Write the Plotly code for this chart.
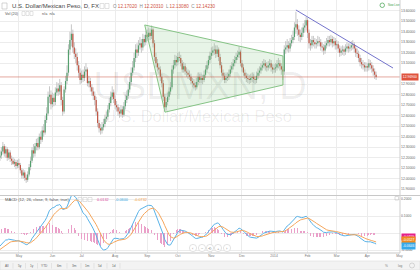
import numpy as np
import pandas as pd
import plotly.graph_objects as go

FONT = "Liberation Sans, Arial, sans-serif"

# ---------------- data ----------------
first_bar_date = "2013-04-12"
first_bar_index = -13          # bar index of first visible bar (0 = 1 May 2013)

# closes before the visible window (only used to warm up the MACD)
prior_closes = [12.72, 12.70, 12.74, 12.68, 12.71, 12.75, 12.79, 12.77, 12.81, 12.84,
                12.80, 12.78, 12.74, 12.70, 12.66, 12.62, 12.58, 12.55, 12.49, 12.44,
                12.41, 12.43, 12.38, 12.40, 12.36, 12.33, 12.35, 12.31, 12.36, 12.33,
                12.30, 12.27, 12.24, 12.21, 12.18, 12.15, 12.13, 12.10, 12.12, 12.16,
                12.19, 12.17, 12.21, 12.18, 12.20]

opens = [12.20, 12.22, 12.26, 12.31, 12.24, 12.28, 12.20, 12.25, 12.19, 12.1702,
         12.1423, 12.16, 12.12, 12.15, 12.13, 12.08, 12.03, 12.06, 12.01, 11.99,
         12.04, 12.11, 12.17, 12.27, 12.24, 12.31, 12.34, 12.30, 12.40, 12.37,
         12.46, 12.44, 12.56, 12.62, 12.78, 12.80, 12.71, 12.77, 12.73, 12.82,
         12.86, 12.83, 12.89, 12.75, 12.64, 12.85, 12.93, 13.01, 13.23, 13.32,
         13.38, 13.25, 13.19, 13.16, 13.08, 13.01, 12.94, 12.99, 12.96, 13.02,
         13.04, 12.91, 12.93, 12.87, 12.83, 12.79, 12.75, 12.64, 12.53, 12.48,
         12.46, 12.49, 12.52, 12.57, 12.59, 12.66, 12.72, 12.78, 12.82, 12.76,
         12.70, 12.68, 12.64, 12.62, 12.66, 12.61, 12.69, 12.75, 12.79, 12.85,
         12.92, 13.01, 13.06, 13.15, 13.23, 13.20, 13.27, 13.29, 13.25, 13.33,
         13.30, 13.37, 13.35, 13.39, 13.36, 13.42, 13.29, 13.16, 13.10, 13.06,
         13.04, 12.97, 12.91, 12.78, 12.68, 12.73, 12.78, 12.83, 12.87, 13.04,
         13.08, 13.13, 13.11, 13.16, 13.15, 13.10, 13.04, 13.07, 13.02, 13.01,
         12.99, 12.97, 12.93, 12.91, 12.89, 12.87, 12.92, 12.97, 12.94, 12.96,
         12.94, 12.99, 13.04, 13.08, 13.13, 13.17, 13.20, 13.22, 13.23, 13.19,
         13.23, 13.16, 13.08, 13.01, 12.98, 12.94, 12.96, 12.97, 13.00, 13.04,
         13.07, 13.10, 13.13, 13.16, 13.18, 13.21, 13.10, 13.06, 13.01, 12.98,
         12.96, 12.95, 12.94, 12.96, 12.97, 12.95, 12.94, 12.98, 13.01, 13.03,
         13.06, 13.08, 13.10, 13.07, 13.06, 13.08, 13.10, 13.06, 13.04, 13.05,
         13.06, 13.09, 13.10, 13.07, 13.04, 13.02, 13.23, 13.25, 13.27, 13.24,
         13.29, 13.32, 13.35, 13.44, 13.47, 13.42, 13.37, 13.35, 13.39, 13.44,
         13.46, 13.51, 13.39, 13.29, 13.27, 13.32, 13.30, 13.28, 13.29, 13.31,
         13.30, 13.26, 13.25, 13.22, 13.27, 13.29, 13.32, 13.30, 13.33, 13.29,
         13.31, 13.27, 13.28, 13.24, 13.20, 13.22, 13.23, 13.21, 13.24, 13.26,
         13.24, 13.25, 13.27, 13.28, 13.24, 13.20, 13.19, 13.15, 13.11, 13.09,
         13.08, 13.06, 13.07, 13.06, 13.10, 13.08, 13.05, 13.02, 12.99]

highs = [12.27, 12.30, 12.35, 12.33, 12.31, 12.30, 12.28, 12.27, 12.22, 12.2031,
         12.19, 12.18, 12.18, 12.19, 12.15, 12.10, 12.09, 12.08, 12.04, 12.07,
         12.14, 12.21, 12.30, 12.33, 12.34, 12.38, 12.39, 12.43, 12.45, 12.50,
         12.52, 12.60, 12.68, 12.83, 12.88, 12.84, 12.82, 12.81, 12.87, 12.92,
         12.91, 12.95, 12.92, 12.78, 12.88, 12.98, 13.08, 13.28, 13.40, 13.47,
         13.42, 13.30, 13.24, 13.20, 13.12, 13.05, 13.03, 13.04, 13.07, 13.10,
         13.06, 12.98, 12.96, 12.90, 12.87, 12.83, 12.78, 12.67, 12.56, 12.52,
         12.54, 12.57, 12.61, 12.64, 12.70, 12.77, 12.83, 12.88, 12.85, 12.79,
         12.74, 12.71, 12.68, 12.70, 12.69, 12.73, 12.80, 12.84, 12.90, 12.97,
         13.06, 13.12, 13.20, 13.28, 13.29, 13.32, 13.35, 13.33, 13.38, 13.37,
         13.41, 13.42, 13.44, 13.43, 13.46, 13.44, 13.32, 13.20, 13.14, 13.10,
         13.07, 13.00, 12.94, 12.81, 12.77, 12.82, 12.87, 12.92, 13.08, 13.13,
         13.18, 13.17, 13.20, 13.21, 13.18, 13.13, 13.11, 13.10, 13.06, 13.04,
         13.03, 13.00, 12.96, 12.95, 12.92, 12.96, 13.01, 13.00, 13.00, 12.99,
         13.03, 13.08, 13.12, 13.17, 13.21, 13.25, 13.26, 13.29, 13.27, 13.27,
         13.25, 13.19, 13.11, 13.04, 13.01, 13.00, 13.01, 13.04, 13.08, 13.11,
         13.14, 13.17, 13.20, 13.22, 13.26, 13.23, 13.13, 13.09, 13.04, 13.01,
         13.00, 12.99, 13.00, 13.01, 13.00, 12.98, 13.02, 13.05, 13.07, 13.10,
         13.12, 13.14, 13.13, 13.11, 13.12, 13.14, 13.13, 13.09, 13.09, 13.10,
         13.13, 13.15, 13.13, 13.10, 13.07, 13.27, 13.31, 13.33, 13.31, 13.34,
         13.37, 13.41, 13.49, 13.59, 13.52, 13.46, 13.42, 13.44, 13.48, 13.51,
         13.54, 13.53, 13.42, 13.33, 13.36, 13.36, 13.34, 13.33, 13.36, 13.35,
         13.33, 13.30, 13.28, 13.31, 13.34, 13.36, 13.36, 13.37, 13.36, 13.35,
         13.34, 13.32, 13.31, 13.27, 13.26, 13.27, 13.26, 13.28, 13.30, 13.29,
         13.29, 13.31, 13.32, 13.30, 13.27, 13.24, 13.22, 13.18, 13.15, 13.13,
         13.11, 13.11, 13.10, 13.14, 13.13, 13.11, 13.08, 13.05, 13.02]

lows = [12.17, 12.19, 12.23, 12.21, 12.20, 12.17, 12.18, 12.16, 12.13, 12.1308,
        12.11, 12.09, 12.10, 12.10, 12.05, 12.00, 12.00, 11.98, 11.96, 11.97,
        12.02, 12.08, 12.15, 12.20, 12.21, 12.27, 12.27, 12.28, 12.33, 12.35,
        12.40, 12.42, 12.53, 12.60, 12.72, 12.66, 12.68, 12.69, 12.70, 12.79,
        12.79, 12.80, 12.70, 12.60, 12.62, 12.82, 12.90, 12.98, 13.18, 13.26,
        13.20, 13.14, 13.10, 13.03, 12.96, 12.90, 12.91, 12.92, 12.93, 12.98,
        12.88, 12.87, 12.83, 12.79, 12.75, 12.70, 12.60, 12.49, 12.44, 12.42,
        12.43, 12.46, 12.49, 12.54, 12.56, 12.63, 12.69, 12.75, 12.72, 12.66,
        12.64, 12.60, 12.58, 12.59, 12.58, 12.59, 12.66, 12.72, 12.76, 12.82,
        12.89, 12.98, 13.03, 13.11, 13.15, 13.17, 13.23, 13.20, 13.22, 13.26,
        13.27, 13.31, 13.32, 13.32, 13.33, 13.25, 13.12, 13.06, 13.02, 13.00,
        12.93, 12.87, 12.74, 12.64, 12.65, 12.70, 12.75, 12.80, 12.85, 13.00,
        13.05, 13.07, 13.08, 13.12, 13.07, 13.01, 13.01, 12.99, 12.97, 12.95,
        12.94, 12.90, 12.87, 12.86, 12.84, 12.85, 12.89, 12.91, 12.91, 12.90,
        12.92, 12.96, 13.01, 13.05, 13.10, 13.14, 13.17, 13.18, 13.15, 13.16,
        13.12, 13.05, 12.98, 12.94, 12.91, 12.91, 12.93, 12.94, 12.97, 13.01,
        13.04, 13.07, 13.10, 13.13, 13.15, 13.07, 13.02, 12.98, 12.95, 12.92,
        12.91, 12.90, 12.91, 12.92, 12.91, 12.90, 12.91, 12.95, 12.98, 13.00,
        13.03, 13.05, 13.03, 13.02, 13.03, 13.05, 13.02, 13.00, 13.01, 13.01,
        13.03, 13.05, 13.03, 12.99, 12.94, 12.99, 13.19, 13.21, 13.20, 13.21,
        13.26, 13.29, 13.32, 13.38, 13.36, 13.31, 13.30, 13.32, 13.35, 13.39,
        13.41, 13.34, 13.24, 13.22, 13.24, 13.26, 13.24, 13.24, 13.26, 13.26,
        13.22, 13.21, 13.18, 13.19, 13.24, 13.26, 13.26, 13.27, 13.25, 13.26,
        13.23, 13.23, 13.20, 13.16, 13.17, 13.18, 13.17, 13.18, 13.21, 13.20,
        13.21, 13.22, 13.23, 13.20, 13.16, 13.15, 13.11, 13.07, 13.05, 13.04,
        13.02, 13.02, 13.02, 13.03, 13.04, 13.01, 12.98, 12.95, 12.94]

closes = [12.22, 12.26, 12.31, 12.24, 12.28, 12.20, 12.25, 12.19, 12.17, 12.1423,
          12.16, 12.12, 12.15, 12.13, 12.08, 12.03, 12.06, 12.01, 11.99, 12.04,
          12.11, 12.17, 12.27, 12.24, 12.31, 12.34, 12.30, 12.40, 12.37, 12.46,
          12.44, 12.56, 12.62, 12.78, 12.80, 12.71, 12.77, 12.73, 12.82, 12.86,
          12.83, 12.89, 12.75, 12.64, 12.85, 12.93, 13.01, 13.23, 13.32, 13.38,
          13.25, 13.19, 13.16, 13.08, 13.01, 12.94, 12.99, 12.96, 13.02, 13.04,
          12.91, 12.93, 12.87, 12.83, 12.79, 12.75, 12.64, 12.53, 12.48, 12.46,
          12.49, 12.52, 12.57, 12.59, 12.66, 12.72, 12.78, 12.82, 12.76, 12.70,
          12.68, 12.64, 12.62, 12.66, 12.61, 12.69, 12.75, 12.79, 12.85, 12.92,
          13.01, 13.06, 13.15, 13.23, 13.20, 13.27, 13.29, 13.25, 13.33, 13.30,
          13.37, 13.35, 13.39, 13.36, 13.42, 13.29, 13.16, 13.10, 13.06, 13.04,
          12.97, 12.91, 12.78, 12.68, 12.73, 12.78, 12.83, 12.87, 13.04, 13.08,
          13.13, 13.11, 13.16, 13.15, 13.10, 13.04, 13.07, 13.02, 13.01, 12.99,
          12.97, 12.93, 12.91, 12.89, 12.87, 12.92, 12.97, 12.94, 12.96, 12.94,
          12.99, 13.04, 13.08, 13.13, 13.17, 13.20, 13.22, 13.23, 13.19, 13.23,
          13.16, 13.08, 13.01, 12.98, 12.94, 12.96, 12.97, 13.00, 13.04, 13.07,
          13.10, 13.13, 13.16, 13.18, 13.21, 13.10, 13.06, 13.01, 12.98, 12.96,
          12.95, 12.94, 12.96, 12.97, 12.95, 12.94, 12.98, 13.01, 13.03, 13.06,
          13.08, 13.10, 13.07, 13.06, 13.08, 13.10, 13.06, 13.04, 13.05, 13.06,
          13.09, 13.10, 13.07, 13.04, 13.02, 13.23, 13.25, 13.27, 13.24, 13.29,
          13.32, 13.35, 13.44, 13.47, 13.42, 13.37, 13.35, 13.39, 13.44, 13.46,
          13.51, 13.39, 13.29, 13.27, 13.32, 13.30, 13.28, 13.29, 13.31, 13.30,
          13.26, 13.25, 13.22, 13.27, 13.29, 13.32, 13.30, 13.33, 13.29, 13.31,
          13.27, 13.28, 13.24, 13.20, 13.22, 13.23, 13.21, 13.24, 13.26, 13.24,
          13.25, 13.27, 13.28, 13.24, 13.20, 13.19, 13.15, 13.11, 13.09, 13.08,
          13.06, 13.07, 13.06, 13.10, 13.08, 13.05, 13.02, 12.99, 12.969]

price_ticks = [11.9, 12.0, 12.1, 12.2, 12.3, 12.4, 12.5, 12.6, 12.7, 12.8, 12.9,
               13.1, 13.2, 13.3, 13.4, 13.5, 13.6]
macd_ticks = [-0.1, 0.1, 0.2]
macd_grid = [-0.1, 0.0, 0.1, 0.2]

# drawings (bar index, price)
triangle_bar = [86.3, 181.1, 181.1, 100.2]
triangle_price = [13.464, 13.169, 12.892, 12.634]
trend_bar = [190.0, 256.6]
trend_price = [13.607, 13.054]

header_title = "U.S. Dollar/Mexican Peso, D, FX"
header_ohlc = [("O", "12.17020"), ("H", "12.20310"), ("L", "12.13080"), ("C", "12.14230")]
macd_header = [("0.0132", "#d9479b"), ("-0.0600", "#3aa6e0"), ("-0.0732", "#f29a3c")]
range_buttons = ["All", "5y", "1y", "YTD", "6m", "3m", "1m", "5d", "1d"]

assert len(opens) == len(highs) == len(lows) == len(closes)

# ---------------- geometry helpers ----------------
W, H = 420, 270
PW, PH = 400, 253           # plot area in pixels
X0_PX, PX_PER_BAR = 18.9, 1.458
def px_to_bar(px): return (px - X0_PX) / PX_PER_BAR
def py_to_price(py): return 13.6 - (py - 10.7) / 105.0
def py_to_macd(py): return (233.0 - py) / 170.0
def xp(px): return px / PW
def yp(py): return (PH - py) / PH

n = len(closes)
bars = list(range(first_bar_index, first_bar_index + n))
dates = pd.bdate_range(first_bar_date, periods=n + 30)
tick_bar, tick_txt = [], []
for k in range(1, len(dates)):
    if dates[k].month != dates[k - 1].month:
        tick_bar.append(k + first_bar_index)
        tick_txt.append(str(dates[k].year) if dates[k].month == 1 else dates[k].strftime("%b"))

# ---------------- MACD ----------------
def ema(v, span):
    a = 2.0 / (span + 1)
    out = [v[0]]
    for x in v[1:]:
        out.append(a * x + (1 - a) * out[-1])
    return np.array(out)

allc = np.array(prior_closes + closes)
macd_full = ema(allc, 12) - ema(allc, 26)
sig_full = ema(list(macd_full), 9)
macd = macd_full[-n:]
signal = sig_full[-n:]
hist = macd - signal

# ---------------- traces ----------------
fig = go.Figure()

# watermark (under everything)
fig.add_trace(go.Scatter(x=[px_to_bar(200), px_to_bar(198)], y=[py_to_price(89), py_to_price(118)],
                         mode="text", text=["USDMXN, D", "U.S. Dollar/Mexican Peso"],
                         textfont=dict(size=[38, 16.5], color="rgba(0,0,0,0.07)", family=FONT),
                         hoverinfo="skip", showlegend=False, xaxis="x", yaxis="y"))

wx, wy = [], []
ux, uy, dx, dy = [], [], [], []
for b, o, h, l, c in zip(bars, opens, highs, lows, closes):
    wx += [b, b, None]; wy += [l, h, None]
    if c >= o:
        ux += [b, b, None]; uy += [o, c, None]
    else:
        dx += [b, b, None]; dy += [o, c, None]

fig.add_trace(go.Scatter(x=wx, y=wy, mode="lines", line=dict(color="#b8b8b8", width=0.8),
                         hoverinfo="skip", showlegend=False, xaxis="x", yaxis="y"))
fig.add_trace(go.Scatter(x=ux, y=uy, mode="lines", line=dict(color="#559f6e", width=1.2),
                         hoverinfo="skip", showlegend=False, xaxis="x", yaxis="y"))
fig.add_trace(go.Scatter(x=dx, y=dy, mode="lines", line=dict(color="#c25543", width=1.2),
                         hoverinfo="skip", showlegend=False, xaxis="x", yaxis="y"))

# triangle drawing
fig.add_trace(go.Scatter(x=triangle_bar + triangle_bar[:1], y=triangle_price + triangle_price[:1],
                         mode="lines", fill="toself", fillcolor="rgba(110,190,110,0.17)",
                         line=dict(color="#86c486", width=1), hoverinfo="skip",
                         showlegend=False, xaxis="x", yaxis="y"))
# trend line drawing
fig.add_trace(go.Scatter(x=trend_bar, y=trend_price, mode="lines",
                         line=dict(color="#7474cc", width=1), hoverinfo="skip",
                         showlegend=False, xaxis="x", yaxis="y"))

# MACD pane
fig.add_trace(go.Bar(x=bars, y=hist, width=0.45, marker=dict(color="#eaa0c9", line=dict(width=0)),
                     hoverinfo="skip", showlegend=False, xaxis="x2", yaxis="y2"))
fig.add_trace(go.Scatter(x=bars, y=macd, mode="lines", line=dict(color="#5ab3e8", width=1),
                         hoverinfo="skip", showlegend=False, xaxis="x2", yaxis="y2"))
fig.add_trace(go.Scatter(x=bars, y=signal, mode="lines", line=dict(color="#f5a65c", width=1),
                         hoverinfo="skip", showlegend=False, xaxis="x2", yaxis="y2"))

# ---------------- layout ----------------
xrange = [px_to_bar(0), px_to_bar(PW)]
grid = "#ececec"
axis_font = dict(size=3.4, color="#666", family=FONT)

shapes = []
ann = []

def txt(px, py, s, size, color, anchor="left", **kw):
    ann.append(dict(x=xp(px), y=yp(py), xref="paper", yref="paper", text=s, showarrow=False,
                    xanchor=anchor, yanchor="middle",
                    font=dict(size=size, color=color, family=FONT), **kw))

def rect(x0, y0, x1, y1, line="#cfcfcf", fill="rgba(0,0,0,0)", lw=0.6, kind="rect"):
    shapes.append(dict(type=kind, xref="paper", yref="paper", x0=xp(x0), x1=xp(x1),
                       y0=yp(y1), y1=yp(y0), line=dict(color=line, width=lw), fillcolor=fill))

def hline(x0, x1, py, color="#c8c8c8", lw=1):
    shapes.append(dict(type="line", xref="paper", yref="paper", x0=xp(x0), x1=xp(x1),
                       y0=yp(py), y1=yp(py), line=dict(color=color, width=lw)))

# current price line
shapes.append(dict(type="line", xref="x domain", yref="y", x0=0, x1=1, y0=closes[-1], y1=closes[-1],
                   line=dict(color="rgba(206,96,80,0.55)", width=1)))
# pane borders
hline(0, W, 195.5)
hline(0, PW, 253)
shapes.append(dict(type="line", xref="paper", yref="paper", x0=xp(400), x1=xp(400), y0=0, y1=1,
                   line=dict(color="#cfcfcf", width=1)))
# bottom toolbar
rect(0, 261, W, 270, line="#dedede", fill="#f3f3f3", lw=0.6)
btn_x = [7, 19.5, 31.5, 44.5, 59.5, 74.5, 87.5, 100.5, 113.5]
for bx, bt in zip(btn_x, range_buttons):
    txt(bx, 265.6, bt, 3.2, "#666", anchor="center")
for sx in [13, 25.5, 37.5, 51.5, 67, 81, 94, 107, 120]:
    shapes.append(dict(type="line", xref="paper", yref="paper", x0=xp(sx), x1=xp(sx),
                       y0=yp(263), y1=yp(268.5), line=dict(color="#d8d8d8", width=0.6)))
txt(386.5, 265.6, "%", 3.2, "#777", anchor="center")
txt(399.5, 265.6, "log", 3.2, "#777", anchor="center")
rect(409.5, 263, 414.5, 268, line="#bdbdbd", kind="circle")

# header (price pane)
rect(2, 3, 7, 9, line="#b9b9b9")
txt(10, 6.2, header_title, 6, "#444")
rect(100, 3.5, 104, 8.5, line="#cfcfcf"); rect(105, 3.5, 109, 8.5, line="#cfcfcf")
ohlc_html = "  ".join(f"{k} <span style='color:#d0533f'>{v}</span>" for k, v in header_ohlc)
txt(111, 6.2, ohlc_html, 4.6, "#8a8a8a")
txt(3, 13.5, "Vol (20)", 3.8, "#555")
rect(22, 11.5, 25, 15.5, line="#d0d0d0"); rect(26, 11.5, 29, 15.5, line="#d0d0d0"); rect(30, 11.5, 33, 15.5, line="#d0d0d0")
txt(40, 13.5, "n/a&nbsp;&nbsp;n/a", 3.8, "#555")
# realtime marker
rect(380, 3, 384.5, 7.5, line="#3f9f4a", lw=0.7, kind="circle")
txt(386, 5.3, "Now Live", 2.8, "#3f9f4a")

# MACD header
txt(3, 199.6, "MACD (12, 26, close, 9, false, true)", 4.1, "#555")
rect(78, 197.5, 82, 201.5, line="#d0d0d0"); rect(83, 197.5, 87, 201.5, line="#d0d0d0"); rect(88, 197.5, 92, 201.5, line="#d0d0d0")
for (s, col), hx in zip(macd_header, [95, 113, 132]):
    txt(hx, 199.6, s, 3.8, col)
rect(395, 196.5, 398.5, 200, line="#c4c4c4")

# navigation buttons
for cx, g in zip([193, 202, 210, 218, 227], ["‹", "−", "⟲", "+", "›"]):
    rect(cx - 3.6, 248 - 3.6, cx + 3.6, 248 + 3.6, line="#d0d0d0", fill="white", kind="circle")
    txt(cx, 248.2, g, 4.2, "#8a8a8a", anchor="center")

# right-axis badges
ann.append(dict(x=xp(400.6), y=closes[-1], xref="paper", yref="y", text=f"{closes[-1]:.5f}",
                showarrow=False, xanchor="left", yanchor="middle", bgcolor="#df533d",
                borderpad=0.8, font=dict(size=3.4, color="white", family=FONT)))
for val, col, shift in [(hist[-1], "#e5218a", -2), (signal[-1], "#f08a1e", 1.5), (macd[-1], "#36a9ea", -2)]:
    ann.append(dict(x=xp(400.6), y=val, xref="paper", yref="y2", text=f"{val:.4f}", yshift=shift,
                    showarrow=False, xanchor="left", yanchor="middle", bgcolor=col,
                    borderpad=0.8, font=dict(size=3.4, color="white", family=FONT)))

fig.update_layout(
    width=W, height=H, margin=dict(l=0, r=W - PW, t=0, b=H - PH),
    paper_bgcolor="white", plot_bgcolor="white", showlegend=False,
    barmode="overlay", bargap=0, hovermode=False,
    font=dict(family=FONT),
    xaxis=dict(domain=[0, 1], range=xrange, anchor="y", tickvals=tick_bar, showticklabels=False,
               showgrid=True, gridcolor=grid, gridwidth=1, zeroline=False, showline=False,
               ticks="", fixedrange=True),
    yaxis=dict(domain=[yp(195), 1], range=[py_to_price(195), py_to_price(0)], side="right",
               anchor="x", tickvals=price_ticks, ticktext=[f"{v:.5f}" for v in price_ticks],
               tickfont=axis_font, showgrid=True, gridcolor=grid, zeroline=False, showline=False,
               ticks="", fixedrange=True),
    xaxis2=dict(domain=[0, 1], range=xrange, anchor="y2", tickvals=tick_bar, ticktext=tick_txt,
                tickfont=dict(size=3.4, color="#777", family=FONT), showgrid=True, gridcolor=grid,
                zeroline=False, showline=False, ticks="", fixedrange=True),
    yaxis2=dict(domain=[0, yp(196)], range=[py_to_macd(253), py_to_macd(196)], side="right",
                anchor="x2", tickvals=macd_grid,
                ticktext=[f"{v:.4f}" if v in macd_ticks else "" for v in macd_grid],
                tickfont=axis_font, showgrid=True, gridcolor=grid, zeroline=False, showline=False,
                ticks="", fixedrange=True),
    shapes=shapes, annotations=ann,
)

fig.write_html("out.html", config={"displayModeBar": False, "staticPlot": True})
